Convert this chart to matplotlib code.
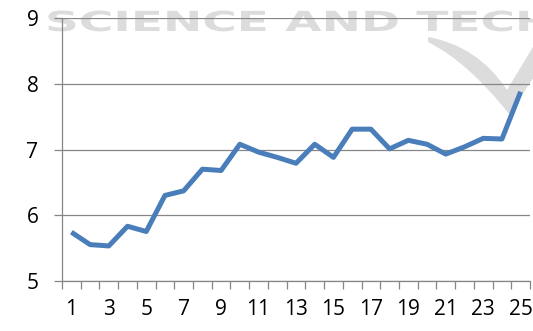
import matplotlib
matplotlib.use("Agg")
import matplotlib.pyplot as plt
from matplotlib.textpath import TextPath
from matplotlib.patches import PathPatch
from matplotlib.path import Path
from matplotlib.font_manager import FontProperties
from matplotlib.transforms import Affine2D, IdentityTransform

# Series values, one per period
periods = list(range(1, 26))
values = [5.74, 5.55, 5.53, 5.83, 5.75, 6.30, 6.37, 6.70, 6.68, 7.08,
          6.96, 6.88, 6.79, 7.08, 6.88, 7.31, 7.31, 7.01, 7.14, 7.08,
          6.93, 7.04, 7.17, 7.16, 7.88]
label_ticks = list(range(1, 26, 2))
y_ticks = [5, 6, 7, 8, 9]

LINE_BLUE = "#4a7ebb"
GRID_GRAY = "#868686"
MARK_GRAY = "#dcdcdc"

plt.rcParams["font.family"] = ["Open Sans", "DejaVu Sans"]

W, H = 533, 331
fig = plt.figure(figsize=(W / 100, H / 100), dpi=100)
fig.patch.set_facecolor("white")

# faint publisher mark behind the plot (pixel coordinates, y from the top)
fp = FontProperties(family="DejaVu Sans", weight="bold")
tp = TextPath((0, 0), "SCIENCE AND TECHNOLOGY", size=20, prop=fp)
tr = Affine2D().scale(2.35, 1.38).translate(45, H - 31)
fig.patches.append(PathPatch(tp, transform=tr, facecolor=MARK_GRAY,
                             edgecolor="none", zorder=-2))

swoosh = [(428, 37), (478, 46), (507, 90), (536, 42), (536, 74),
          (509, 114), (468, 62), (428, 42), (428, 37)]
codes = [Path.MOVETO, Path.CURVE3, Path.CURVE3, Path.LINETO, Path.LINETO,
         Path.LINETO, Path.CURVE3, Path.CURVE3, Path.CLOSEPOLY]
swoosh_path = Path([(x, H - y) for x, y in swoosh], codes)
fig.patches.append(PathPatch(swoosh_path, transform=IdentityTransform(),
                             facecolor=MARK_GRAY, edgecolor="none", zorder=-2))

ax = fig.add_axes([62 / W, 1 - 280.7 / H, (530 - 62) / W, (280.7 - 18.3) / H])
ax.patch.set_alpha(0)

ax.plot(periods, values, color=LINE_BLUE, lw=3.6,
        solid_joinstyle="round", solid_capstyle="butt", zorder=3)

ax.set_xlim(0.5, 25.5)
ax.set_ylim(5, 9)
ax.set_yticks(y_ticks)
ax.grid(axis="y", color=GRID_GRAY, lw=0.9)
ax.set_axisbelow(True)

# category axis: tick marks between categories, labels on odd periods
ax.set_xticks([p - 0.5 for p in periods] + [25.5])
ax.set_xticklabels([])
ax.set_xticks(label_ticks, minor=True)
ax.set_xticklabels([str(p) for p in label_ticks], minor=True)
ax.tick_params(axis="x", which="major", length=5.5, width=0.9,
               color=GRID_GRAY, direction="out")
ax.tick_params(axis="x", which="minor", length=0, pad=13, labelsize=15)
ax.tick_params(axis="y", length=6, width=0.9, color=GRID_GRAY,
               pad=11, labelsize=15)

for side in ("top", "right"):
    ax.spines[side].set_visible(False)
for side in ("left", "bottom"):
    ax.spines[side].set_color(GRID_GRAY)
    ax.spines[side].set_linewidth(0.9)

fig.savefig("out.png", dpi=100)
